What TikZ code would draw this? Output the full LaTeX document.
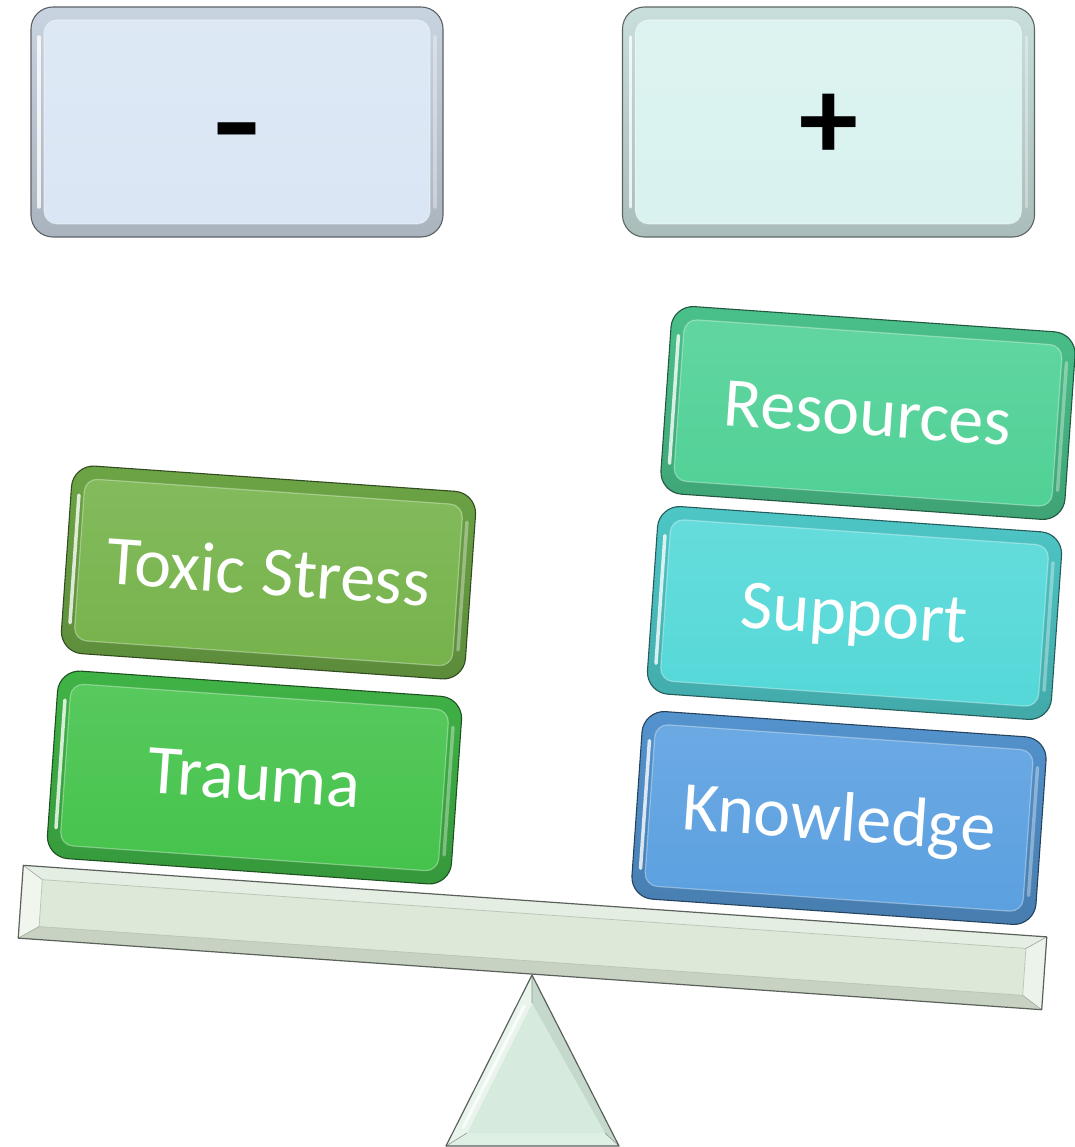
\documentclass[tikz,border=0pt]{standalone}
\usepackage{fontspec}
\setmainfont{Carlito}
\usetikzlibrary{calc}

\definecolor{cMinus}{HTML}{DAE6F4}
\definecolor{cPlus}{HTML}{D9F2EF}
\definecolor{cToxic}{HTML}{76B34B}
\definecolor{cTrauma}{HTML}{45C34C}
\definecolor{cRes}{HTML}{50D196}
\definecolor{cSupport}{HTML}{55D8D8}
\definecolor{cKnow}{HTML}{5BA0E0}
\definecolor{cBeam}{HTML}{DDE9D8}
\definecolor{cFulcrum}{HTML}{D6EBDE}
\definecolor{cEdge}{HTML}{5A615B}

\tikzset{
  boxlabel/.style={text=white, font=\fontsize{70}{84}\selectfont, inner sep=0pt,
                   text height=45pt, text depth=0pt, rotate=-4},
  signlabel/.style={text=black, font=\fontsize{118}{118}\selectfont\bfseries, inner sep=0pt, anchor=base},
  facetline/.style={draw=cEdge, line width=1.2pt, line join=round},
  glint/.style={white, line width=3.5pt, line cap=round},
}

% a bevelled rounded box: x, y, angle, half width, half height, colour
\newcommand\bevelbox[6]{%
  \begin{scope}[shift={(#1,#2)}, rotate=#3]
    % outer rim
    \shade[rounded corners=22pt, top color=#6!92!black, bottom color=#6!78!black]
      (-#4,-#5) rectangle (#4,#5);
    \draw[rounded corners=22pt, draw=#6!42!black, line width=1.1pt]
      (-#4,-#5) rectangle (#4,#5);
    % flat face
    \shade[rounded corners=13pt, top color=#6!90!white, bottom color=#6]
      ({-#4+13},{-#5+13}) rectangle ({#4-13},{#5-13});
    \draw[rounded corners=13pt, white, opacity=.35, line width=1.2pt]
      ({-#4+13},{-#5+13}) rectangle ({#4-13},{#5-13});
    % light glints on the side rims
    \draw[glint, opacity=.8] ({-#4+8},{-#5+30}) -- ({-#4+8},{#5-30});
    \draw[glint, opacity=.35] ({#4-8},{-#5+30}) -- ({#4-8},{#5-30});
  \end{scope}}

\begin{document}
\begin{tikzpicture}[x=1pt, y=-1pt]
  \useasboundingbox (0,0) rectangle (1074,1147);

  % the two headings
  \bevelbox{237}{122}{0}{206}{115}{cMinus}
  \bevelbox{828.5}{122}{0}{206}{115}{cPlus}
  \node[signlabel, xscale=1.3] (minus) at (237,163) {-};
  \node[signlabel] (plus) at (828.5,160) {+};

  % right-hand pile
  \bevelbox{868}{413}{-4}{202.5}{94}{cRes}
  \bevelbox{854.5}{613}{-4}{202.5}{94}{cSupport}
  \bevelbox{839}{818}{-4}{202.5}{94}{cKnow}
  \node[boxlabel] (res) at (868,413) {Resources};
  \node[boxlabel] (sup) at (854.5,613) {Support};
  \node[boxlabel] (know) at (839,818) {Knowledge};

  % left-hand pile
  \bevelbox{268.5}{572.5}{-4}{202.5}{94}{cToxic}
  \bevelbox{254.5}{777.5}{-4}{202.5}{94}{cTrauma}
  \node[boxlabel] (toxic) at (268.5,572.5) {Toxic Stress};
  \node[boxlabel] (trauma) at (254.5,777.5) {Trauma};

  % fulcrum
  \coordinate (fa) at (532,975);
  \coordinate (fl) at (446,1146);
  \coordinate (fr) at (619,1146);
  \coordinate (ia) at (532,1003);
  \coordinate (il) at (467,1133);
  \coordinate (ir) at (605,1133);
  \fill[cFulcrum] (ia) -- (il) -- (ir) -- cycle;
  \fill[cFulcrum!55!white] (fa) -- (fl) -- (il) -- (ia) -- cycle;
  \fill[cFulcrum!92!black] (fa) -- (ia) -- (ir) -- (fr) -- cycle;
  \fill[cFulcrum!80!white] (fl) -- (fr) -- (ir) -- (il) -- cycle;
  \draw[white, line width=3pt, opacity=.8, line cap=round] ($(fa)!.2!(fl)!.55!(ia)$) -- ($(fa)!.85!(fl)!.55!(il)$);
  \draw[cEdge!60!cFulcrum, line width=.6pt] (fa) -- (ia) (fl) -- (il) (fr) -- (ir);
  \draw[facetline] (fa) -- (fl) -- (fr) -- cycle;

  % beam
  \begin{scope}[shift={(532.5,937.5)}, rotate=-4]
    \coordinate (bnw) at (-513,-36.5);
    \coordinate (bne) at (513,-36.5);
    \coordinate (bse) at (513,36.5);
    \coordinate (bsw) at (-513,36.5);
    \coordinate (inw) at (-493,-23.5);
    \coordinate (ine) at (493,-23.5);
    \coordinate (ise) at (493,23.5);
    \coordinate (isw) at (-493,23.5);
    \fill[cBeam] (inw) -- (ine) -- (ise) -- (isw) -- cycle;
    \fill[cBeam!75!white] (bnw) -- (bne) -- (ine) -- (inw) -- cycle;
    \fill[cBeam!90!black] (bsw) -- (bse) -- (ise) -- (isw) -- cycle;
    \fill[cBeam!45!white] (bnw) -- (inw) -- (isw) -- (bsw) -- cycle;
    \fill[cBeam!55!white] (bne) -- (ine) -- (ise) -- (bse) -- cycle;
    \draw[cBeam!85!black, line width=.8pt] (inw) -- (ine) -- (ise) -- (isw) -- cycle;
    \draw[cEdge!50!cBeam, line width=.6pt] (bnw) -- (inw) (bne) -- (ine) (bse) -- (ise) (bsw) -- (isw);
    \draw[facetline] (bnw) -- (bne) -- (bse) -- (bsw) -- cycle;
  \end{scope}
\end{tikzpicture}
\end{document}
